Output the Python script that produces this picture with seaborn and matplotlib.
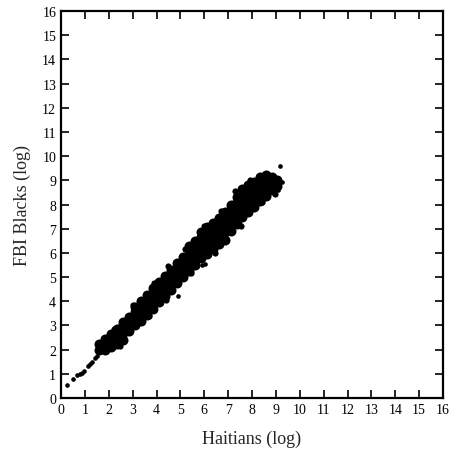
import matplotlib
matplotlib.use("Agg")
import matplotlib.pyplot as plt
import seaborn as sns
import pandas as pd

# Dense cloud
cloud_x = (
    [1.60]*2 + [1.85]*3 + [2.10]*3 + [2.35]*3 + [2.60]*4 + [2.85]*3 +
    [3.10]*4 + [3.35]*4 + [3.60]*4 + [3.85]*4 + [4.10]*4 + [4.35]*4 +
    [4.60]*4 + [4.85]*4 + [5.10]*4 + [5.35]*5 + [5.60]*5 + [5.85]*5 +
    [6.10]*5 + [6.35]*5 + [6.60]*5 + [6.85]*5 + [7.10]*5 + [7.35]*5 +
    [7.60]*5 + [7.85]*5 + [8.10]*5 + [8.35]*5 + [8.60]*4 + [8.85]*3 + [9.05]*2
)
cloud_y = [
    2.0, 2.25,
    2.0, 2.3, 2.45,
    2.1, 2.4, 2.65,
    2.25, 2.55, 2.85,
    2.4, 2.7, 3.0, 3.15,
    2.75, 3.05, 3.35,
    3.0, 3.3, 3.55, 3.75,
    3.2, 3.5, 3.8, 4.0,
    3.45, 3.75, 4.05, 4.25,
    3.7, 4.0, 4.3, 4.55,
    3.95, 4.25, 4.55, 4.8,
    4.2, 4.5, 4.8, 5.05,
    4.45, 4.75, 5.05, 5.3,
    4.75, 5.05, 5.35, 5.6,
    5.0, 5.3, 5.6, 5.85,
    5.25, 5.55, 5.85, 6.1, 6.3,
    5.5, 5.8, 6.1, 6.35, 6.5,
    5.8, 6.1, 6.4, 6.65, 6.85,
    5.95, 6.25, 6.55, 6.85, 7.05,
    6.15, 6.45, 6.75, 7.05, 7.25,
    6.35, 6.65, 6.95, 7.25, 7.45,
    6.55, 6.85, 7.15, 7.45, 7.7,
    6.9, 7.2, 7.5, 7.8, 8.0,
    7.2, 7.5, 7.8, 8.1, 8.3,
    7.5, 7.8, 8.1, 8.4, 8.65,
    7.7, 8.0, 8.3, 8.6, 8.8,
    7.9, 8.2, 8.5, 8.8, 8.95,
    8.15, 8.45, 8.75, 9.0, 9.15,
    8.35, 8.65, 8.95, 9.2,
    8.6, 8.9, 9.15,
    8.75, 9.0,
]

# Ragged edge bumps (hand-read)
edge_x = [2.20, 3.00, 3.90, 4.50, 5.20, 6.00, 6.70, 7.30, 7.90,
          2.45, 3.70, 4.40, 5.45, 6.45, 7.55, 8.40, 8.95]
edge_y = [2.85, 3.85, 4.75, 5.45, 6.15, 7.10, 7.75, 8.55, 9.00,
          2.15, 3.40, 4.05, 5.15, 6.00, 7.10, 8.10, 8.45]

# Sparse points / outliers
sparse_x = [0.27, 0.49, 0.68, 0.78, 0.88, 0.98, 1.13, 1.22, 1.30, 1.43, 1.51,
            4.92, 5.90, 6.05, 9.25, 9.18, 9.10, 4.0]
sparse_y = [0.54, 0.79, 0.97, 1.01, 1.05, 1.10, 1.32, 1.40, 1.47, 1.64, 1.73,
            4.20, 5.50, 5.55, 8.91, 9.60, 8.60, 4.85]

ticks = list(range(0, 17))

sns.set_style("ticks")
plt.rcParams['font.family'] = ['Liberation Serif', 'DejaVu Serif']

fig = plt.figure(figsize=(4.53, 4.60), dpi=100)
ax = fig.add_axes([0.1347, 0.1326, 0.8433, 0.8413])

df_c = pd.DataFrame({"x": cloud_x, "y": cloud_y})
df_e = pd.DataFrame({"x": edge_x, "y": edge_y})
df_s = pd.DataFrame({"x": sparse_x, "y": sparse_y})
sns.scatterplot(data=df_c, x="x", y="y", ax=ax, s=52, color="black",
                linewidth=0, marker="o")
sns.scatterplot(data=df_e, x="x", y="y", ax=ax, s=20, color="black",
                linewidth=0, marker="o")
sns.scatterplot(data=df_s, x="x", y="y", ax=ax, s=11, color="black",
                linewidth=0, marker="o")

ax.set_xlim(0, 16)
ax.set_ylim(0, 16)
ax.set_xticks(ticks)
ax.set_yticks(ticks)
ax.tick_params(direction="in", length=6, width=1.2, top=True, right=True,
               labelsize=10, colors="black")
for sp in ax.spines.values():
    sp.set_linewidth(1.6)
    sp.set_color("black")
ax.set_xlabel("Haitians (log)", fontsize=13, labelpad=10)
ax.set_ylabel("FBI Blacks (log)", fontsize=13, labelpad=8)

fig.savefig("out.png", dpi=100)
